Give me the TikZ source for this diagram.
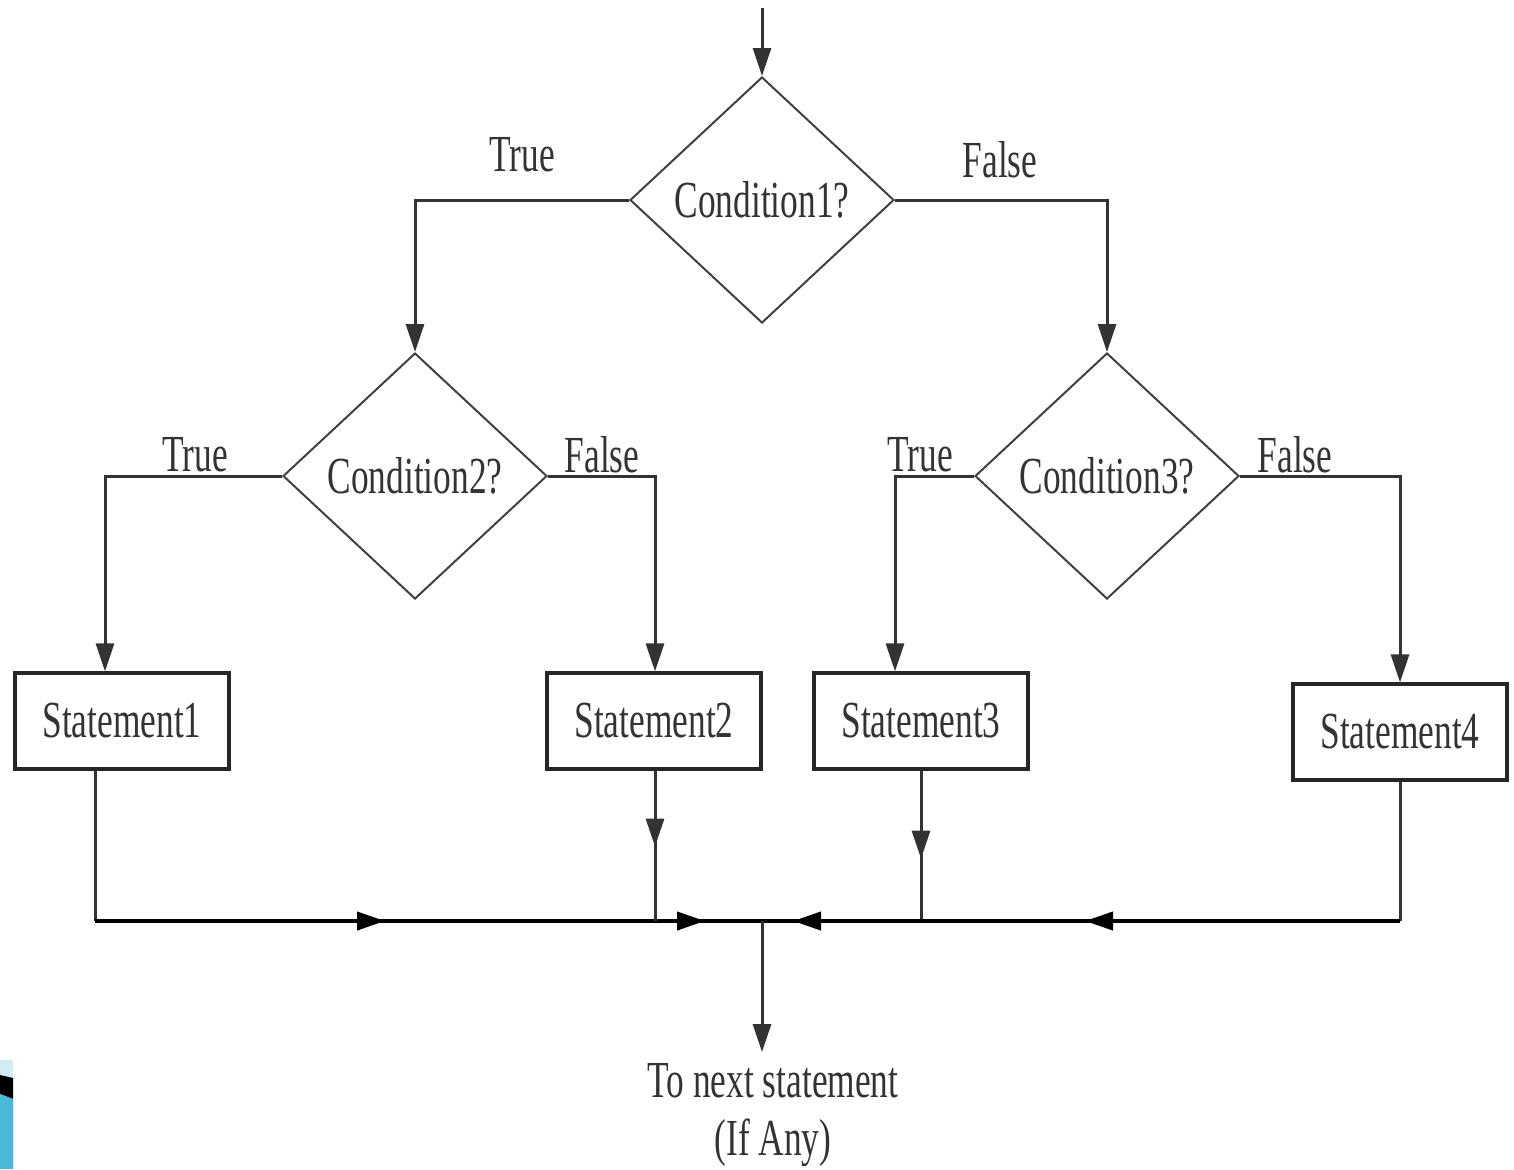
\documentclass[tikz,border=0pt]{standalone}
\usepackage{fontspec}
\setmainfont{Liberation Serif}[FakeStretch=0.68]
\usetikzlibrary{arrows.meta,shapes.geometric,decorations.markings}
\definecolor{cornerblue}{RGB}{74,184,216}
\definecolor{cornerlight}{RGB}{210,236,244}
\begin{document}
\begin{tikzpicture}[x=0.5pt,y=-0.5pt,
  every node/.style={font=\fontsize{26}{30}\selectfont, text=black!80},
  tip/.tip={Triangle[length=14pt,width=9pt]},
  cond/.style={draw=black!75, line width=1pt, diamond, shape aspect=1, inner sep=0pt,
    minimum width=132pt, minimum height=123pt},
  stmt/.style={draw=black!85, line width=1.6pt, rectangle, inner sep=0pt,
    minimum width=107pt, minimum height=48pt},
  link/.style={draw=black!80, line width=1.5pt, -tip},
  bus/.style={draw=black, line width=2pt},
  lbl/.style={inner sep=0pt}
]
\useasboundingbox (0,0) rectangle (1514,1169);
% decorative corner
\fill[cornerlight] (0,1060) rectangle (13,1078);
\fill[black] (0,1075) -- (13,1078) -- (13,1099) -- (0,1094) -- cycle;
\fill[cornerblue] (0,1094) -- (13,1099) -- (13,1169) -- (0,1169) -- cycle;

% nodes
\node[cond] (c1) at (762,200) {Condition1?};
\node[cond] (c2) at (415,476) {Condition2?};
\node[cond] (c3) at (1107,476) {Condition3?};
\node[stmt] (s1) at (122,721) {Statement1};
\node[stmt] (s2) at (654,721) {Statement2};
\node[stmt] (s3) at (921,721) {Statement3};
\node[stmt] (s4) at (1400,732) {Statement4};
\node[lbl] (t1) at (522,155) {True};
\node[lbl] (f1) at (1000,160) {False};
\node[lbl] (t2) at (195,455) {True};
\node[lbl] (f2) at (602,455) {False};
\node[lbl] (t3) at (920,455) {True};
\node[lbl] (f3) at (1295,455) {False};
\node[align=center, inner sep=0pt, font=\fontsize{26}{29}\selectfont] (nx) at (773,1115) {To next statement\\(If Any)};

\coordinate (start) at (762,8);
\coordinate (J) at (762,921);
\coordinate (b1) at (95,921);
\coordinate (b4) at (1400,921);
\coordinate (endarrow) at (762,1052);

% connectors top
\draw[link] (start) -- (c1.north);
\draw[link] (c1.west) -| (c2.north);
\draw[link] (c1.east) -| (c3.north);
\draw[link] (c2.west) -| ([xshift=-8.5pt]s1.north);
\draw[link] (c2.east) -| ([xshift=0.5pt]s2.north);
\draw[link] (c3.west) -| ([xshift=-13pt]s3.north);
\draw[link] (c3.east) -| (s4.north);

% bottom connections
\draw[draw=black!80, line width=1.5pt] ([xshift=-13.5pt]s1.south) -- (b1);
\draw[bus, postaction=decorate, decoration={markings,
    mark=at position 145pt with {\arrow{tip}},
    mark=at position 305pt with {\arrow{tip}}}] (b1) -- (J);
\draw[draw=black!80, line width=1.5pt, postaction=decorate, decoration={markings,
    mark=at position 38pt with {\arrow{tip}}}] ([xshift=0.5pt]s2.south) -- ([xshift=0.5pt]s2.south |- J);
\draw[draw=black!80, line width=1.5pt, postaction=decorate, decoration={markings,
    mark=at position 44pt with {\arrow{tip}}}] (s3.south) -- (s3.south |- J);
\draw[draw=black!80, line width=1.5pt] (s4.south) -- (b4);
\draw[bus, postaction=decorate, decoration={markings,
    mark=at position 157.5pt with {\arrow{tip}},
    mark=at position 303.5pt with {\arrow{tip}}}] (b4) -- (J);
\draw[link] (J) -- (endarrow);
\end{tikzpicture}
\end{document}
